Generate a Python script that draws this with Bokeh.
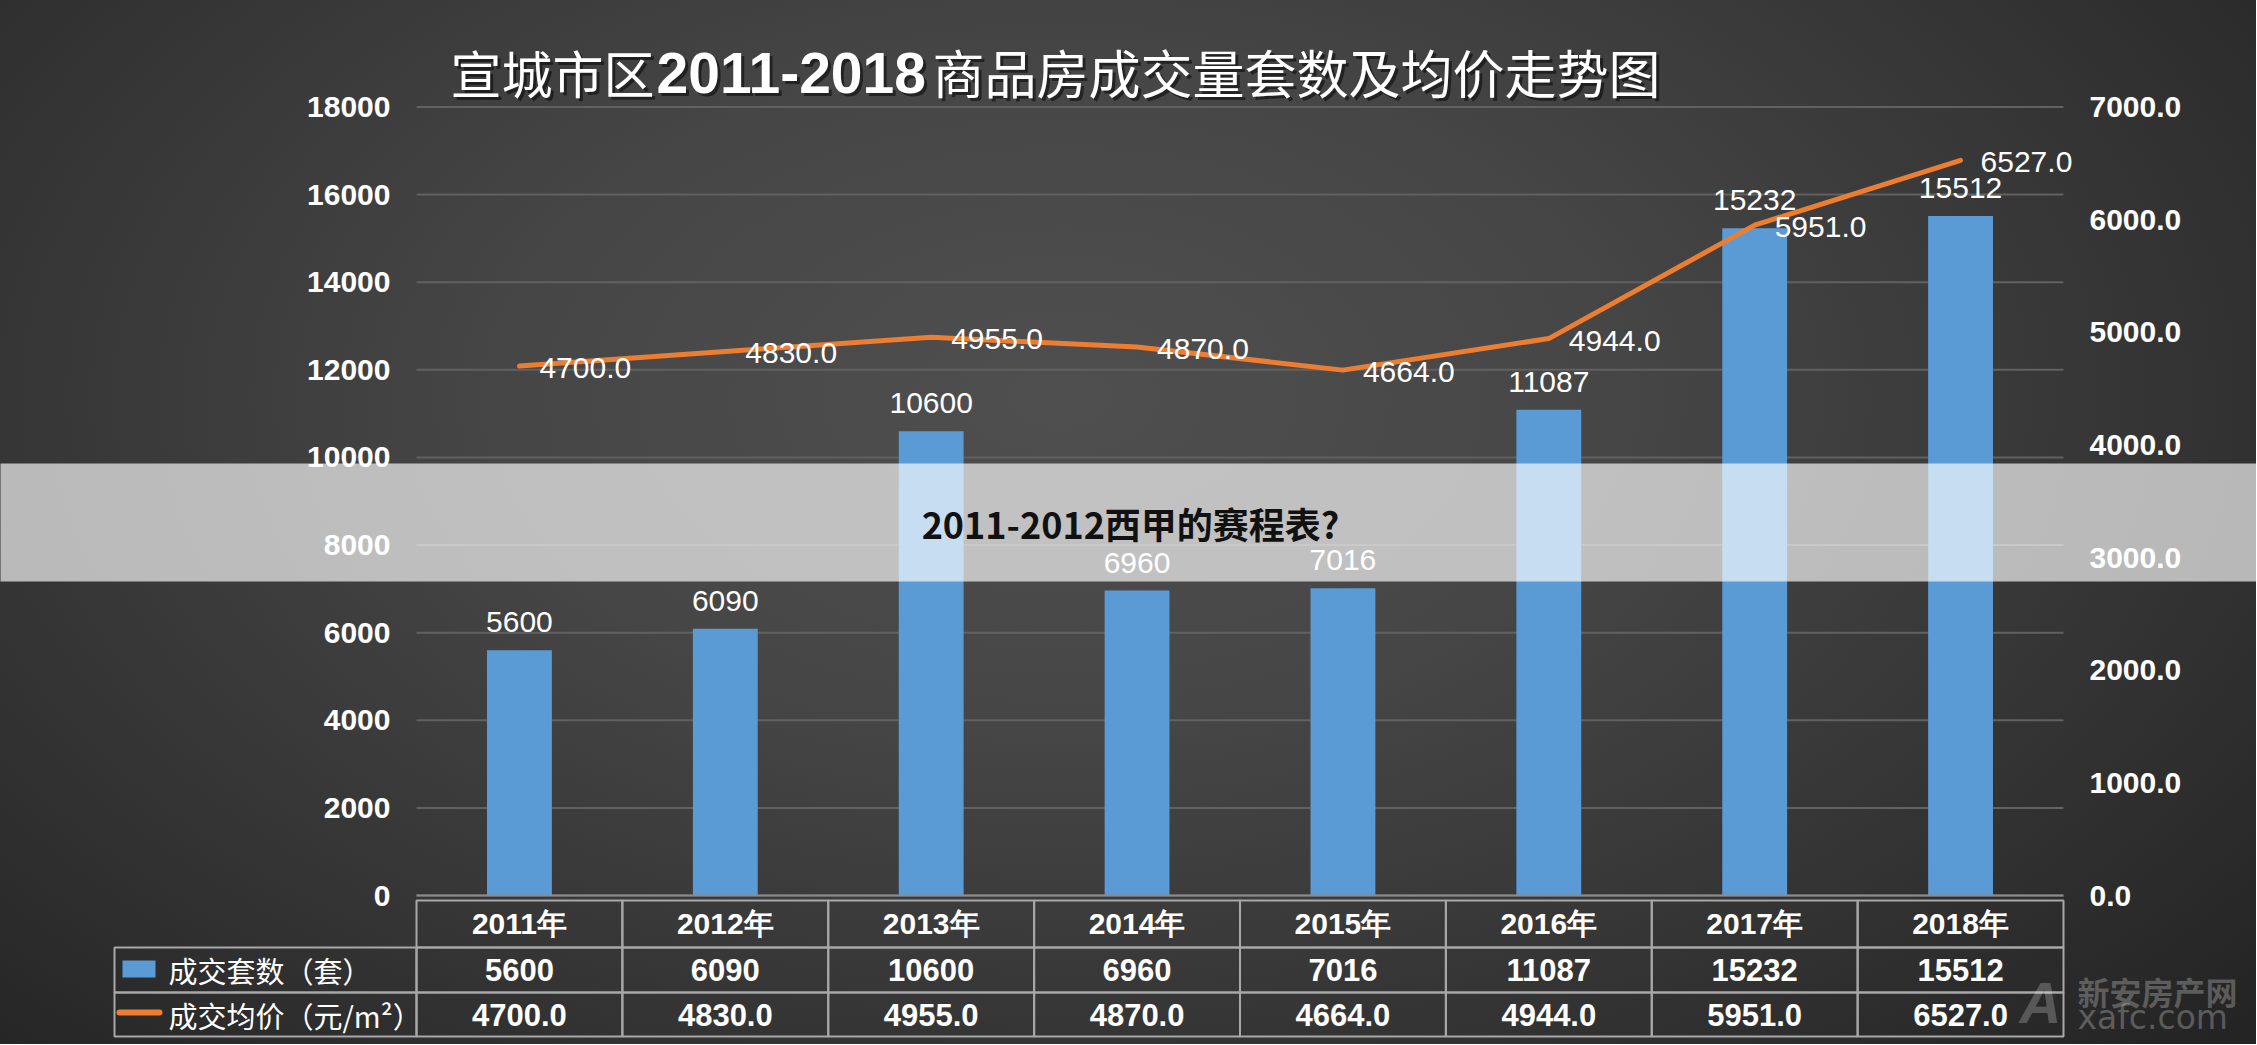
from bokeh.plotting import figure
from bokeh.models import (Range1d, LinearAxis, FixedTicker, NumeralTickFormatter,
                          ColumnDataSource, LabelSet)
from bokeh.core.properties import value
from bokeh.embed import file_html
from bokeh.resources import INLINE

# ---------------- data ----------------
years = ["2011年", "2012年", "2013年", "2014年", "2015年", "2016年", "2017年", "2018年"]
counts = [5600, 6090, 10600, 6960, 7016, 11087, 15232, 15512]
prices = [4700.0, 4830.0, 4955.0, 4870.0, 4664.0, 4944.0, 5951.0, 6527.0]
series_names = ["成交套数（套）", "成交均价（元/m²）"]
title_parts = ["宣城市区", "2011-2018", "商品房成交量套数及均价走势图"]
banner_text = "2011-2012西甲的赛程表?"
count_ticks = [0, 2000, 4000, 6000, 8000, 10000, 12000, 14000, 16000, 18000]
price_ticks = [0, 1000, 2000, 3000, 4000, 5000, 6000, 7000]
watermark = ["新安房产网", "xafc.com", "A"]

# ---------------- layout (page pixels) ----------------
W, H = 2256, 1044
L, R, T, B = 416, 2063, 106.5, 895          # plot area
BAR_C = "#5B9BD5"
LINE_C = "#ED7D31"
TBL_C = "#a8a8a8"
NUM = "Liberation Sans"
CJK = "Noto Sans CJK SC"

n = len(years)
xs = [i + 0.5 for i in range(n)]
cmax, pmax = count_ticks[-1], price_ticks[-1]
cw = (R - L) / n
ppu = (B - T) / cmax
pppu = (B - T) / pmax

p = figure(width=W, height=H, output_backend="svg", toolbar_location=None,
           x_range=Range1d(-L / cw, (W - L) / cw),
           y_range=Range1d(-(H - B) / ppu, cmax + T / ppu),
           x_axis_location=None, y_axis_location=None,
           min_border_left=0, min_border_right=0, min_border_top=0, min_border_bottom=0)
p.extra_y_ranges = {"price": Range1d(-(H - B) / pppu, pmax + T / pppu),
                    "py": Range1d(H, 0)}
p.extra_x_ranges = {"px": Range1d(0, W)}
p.xgrid.visible = False
p.ygrid.visible = False
p.outline_line_color = None
p.background_fill_alpha = 0
p.border_fill_alpha = 0
p.styles = {"background": "radial-gradient(ellipse 70% 90% at 47% 38%, #4f4f4f 0%, #464646 35%, #343434 70%, #242424 100%)"}

# gridlines (plot area only)
p.segment(x0=0, x1=n, y0=count_ticks, y1=count_ticks, line_color="#616161",
          line_width=2, level="underlay")

# axes
common = dict(axis_line_color=None, major_tick_line_color=None, minor_tick_line_color=None,
              major_label_text_color="white", major_label_text_font=NUM,
              major_label_text_font_size="30px", major_label_text_font_style="bold",
              major_label_standoff=20)
ax_l = LinearAxis(ticker=FixedTicker(ticks=count_ticks), fixed_location=0, **common)
p.add_layout(ax_l, "left")
ax_r = LinearAxis(y_range_name="price", ticker=FixedTicker(ticks=price_ticks),
                  formatter=NumeralTickFormatter(format="0.0"), fixed_location=n, **common)
p.add_layout(ax_r, "right")
ax_b = LinearAxis(ticker=FixedTicker(ticks=xs), fixed_location=0, bounds=(0, n),
                  major_label_overrides={x: y for x, y in zip(xs, years)},
                  axis_line_color="#8c8c8c", axis_line_width=2,
                  major_tick_in=0, major_tick_out=0, minor_tick_line_color=None,
                  major_tick_line_color=None,
                  major_label_text_color="white", major_label_text_font=NUM,
                  major_label_text_font_size="30px", major_label_text_font_style="bold",
                  major_label_standoff=11)
p.add_layout(ax_b, "below")

src = ColumnDataSource(dict(x=xs, count=counts, price=prices,
                            count_txt=[str(c) for c in counts],
                            price_txt=[f"{v:.1f}" for v in prices]))

p.vbar(x="x", top="count", width=0.315, source=src, fill_color=BAR_C, line_color=None)
p.line(x="x", y="price", source=src, y_range_name="price", line_color=LINE_C,
       line_width=5, line_cap="round", line_join="round")

p.add_layout(LabelSet(x="x", y="count", text="count_txt", source=src, text_align="center",
                      text_baseline="bottom", y_offset=18, text_color="white",
                      text_font=value(NUM), text_font_size="30px"))
p.add_layout(LabelSet(x="x", y="price", y_range_name="price", text="price_txt", source=src,
                      text_align="left", text_baseline="middle", x_offset=20, y_offset=-2,
                      text_color="white", text_font=value(NUM), text_font_size="30px"))

# ---------------- data table ----------------
row_top, row1, row2, row_bot = 900, 947, 992, 1036
leg_left = 114
for (t, b) in [(row_top, row1), (row1, row2), (row2, row_bot)]:
    p.quad(left=list(range(n)), right=list(range(1, n + 1)), top=[t] * n, bottom=[b] * n,
           y_range_name="py", fill_alpha=0, line_color=TBL_C, line_width=2)
p.quad(left=[leg_left] * 2, right=[L] * 2, top=[row1, row2], bottom=[row2, row_bot],
       x_range_name="px", y_range_name="py", fill_alpha=0, line_color=TBL_C, line_width=2)

yc1, yc2 = (row1 + row2) / 2, (row2 + row_bot) / 2
tsrc = ColumnDataSource(dict(x=xs, y1=[yc1] * n, y2=[yc2] * n,
                             t1=[str(c) for c in counts], t2=[f"{v:.1f}" for v in prices]))
for yk, tk in [("y1", "t1"), ("y2", "t2")]:
    p.text(x="x", y=yk, text=tk, source=tsrc, y_range_name="py",
           text_align="center", text_baseline="middle", text_color="white",
           text_font=value(NUM), text_font_size="31px", text_font_style="bold")

# legend keys
p.quad(left=[122], right=[155], top=[960], bottom=[977], x_range_name="px",
       y_range_name="py", fill_color=BAR_C, line_color=None)
p.segment(x0=[119], x1=[159], y0=[1012], y1=[1012], x_range_name="px", y_range_name="py",
          line_color=LINE_C, line_width=6, line_cap="round")
p.text(x=[168, 168], y=[yc1, yc2], text=series_names, x_range_name="px", y_range_name="py",
       text_align="left", text_baseline="middle", text_color="white",
       text_font=value(CJK), text_font_size="29px")

# ---------------- title ----------------
TY = 71
for dx, dy, col, a in [(3, 3, "black", 0.5), (0, 0, "white", 1.0)]:
    p.text(x=[654 + dx], y=[TY + dy], text=[title_parts[0]], x_range_name="px", y_range_name="py",
           text_align="right", text_baseline="middle", text_color=col, text_alpha=a,
           text_font=value(CJK), text_font_size="51px")
    p.text(x=[656 + dx], y=[TY + 1 + dy], text=[title_parts[1]], x_range_name="px", y_range_name="py",
           text_align="left", text_baseline="middle", text_color=col, text_alpha=a,
           text_font=value(NUM), text_font_size="57px", text_font_style="bold")
    p.text(x=[932 + dx], y=[TY + dy], text=[title_parts[2]], x_range_name="px", y_range_name="py",
           text_align="left", text_baseline="middle", text_color=col, text_alpha=a,
           text_font=value(CJK), text_font_size="52px")

# ---------------- watermark ----------------
p.text(x=[2040], y=[1002], text=[watermark[2]], x_range_name="px", y_range_name="py",
       text_align="center", text_baseline="middle", text_color="white", text_alpha=0.22,
       text_font=value(NUM), text_font_size="58px", text_font_style="bold italic")
p.text(x=[2077], y=[990], text=[watermark[0]], x_range_name="px", y_range_name="py",
       text_align="left", text_baseline="middle", text_color="white", text_alpha=0.25,
       text_font=value(CJK), text_font_size="32px", text_font_style="bold")
p.text(x=[2077], y=[1017], text=[watermark[1]], x_range_name="px", y_range_name="py",
       text_align="left", text_baseline="middle", text_color="white", text_alpha=0.25,
       text_font=value("DejaVu Sans"), text_font_size="33px")

# ---------------- banner overlay ----------------
p.quad(left=[0], right=[W], top=[463], bottom=[581], x_range_name="px", y_range_name="py",
       fill_color="white", fill_alpha=0.66, line_color=None, level="overlay")
p.text(x=[1130], y=[522], text=[banner_text], x_range_name="px", y_range_name="py",
       text_align="center", text_baseline="middle", text_color="#111111",
       text_font=value(CJK), text_font_size="36px", text_font_style="bold", level="overlay")

open("out.html", "w").write(file_html(p, INLINE))
